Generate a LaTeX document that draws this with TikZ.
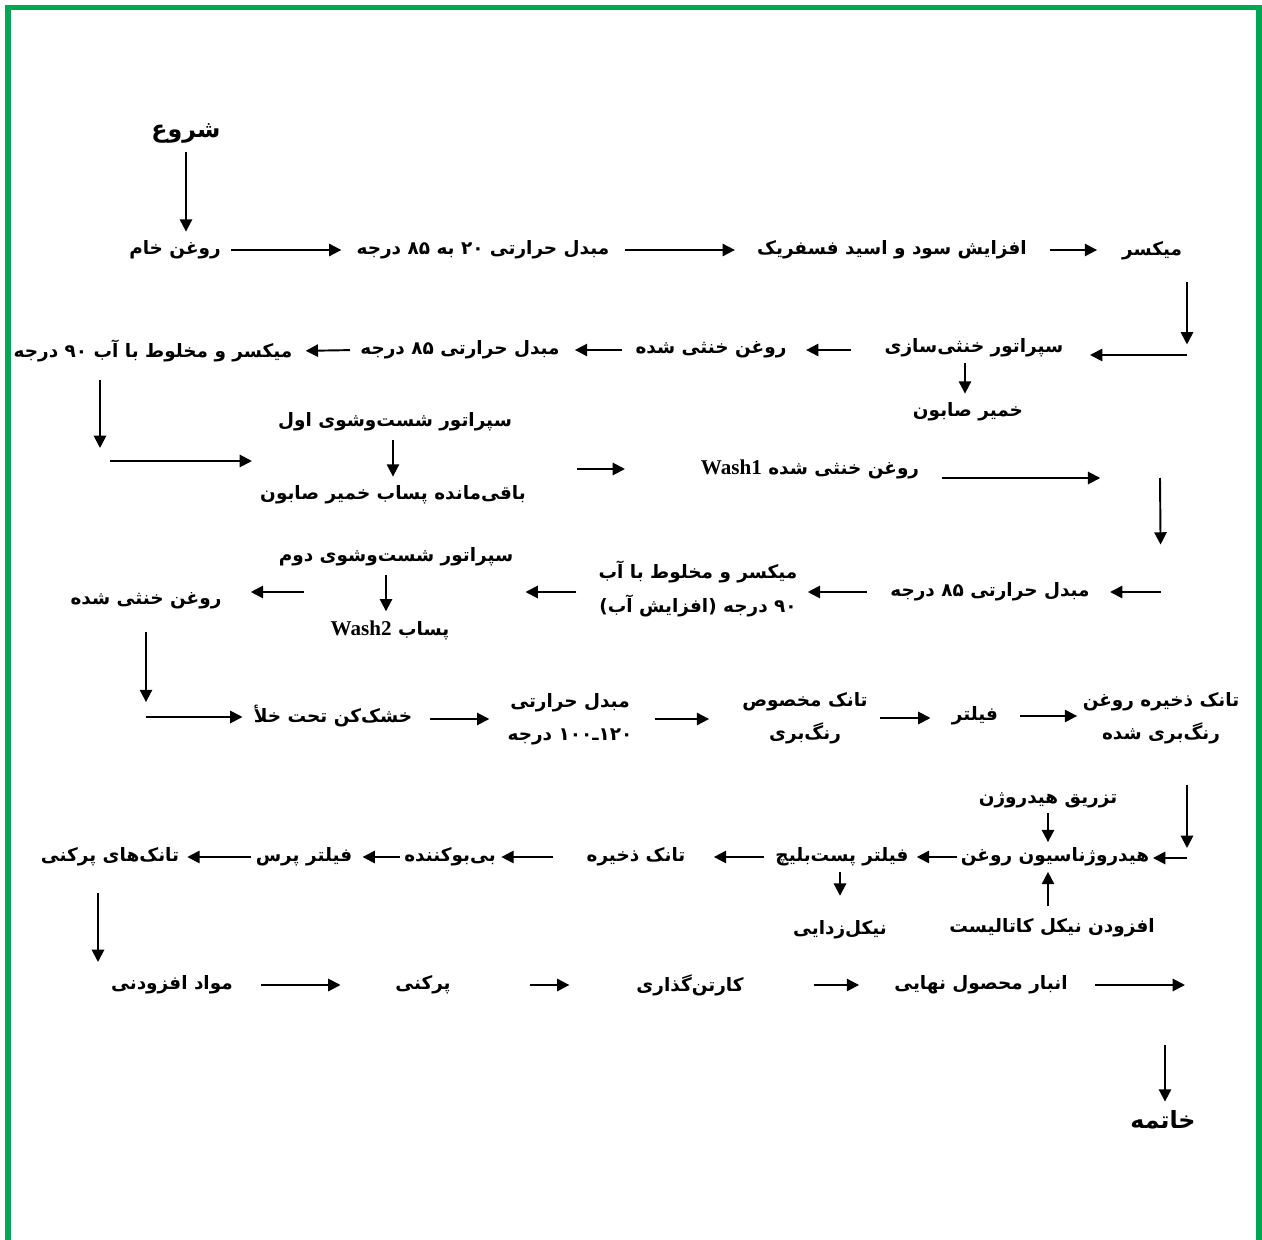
\documentclass[tikz,border=0pt]{standalone}
\usepackage{fontspec}
\newfontfamily\pfont[Script=Arabic]{DejaVu Sans}
\newfontfamily\lfont{Liberation Serif}
\TeXXeTstate=1
\newcommand{\rl}[1]{\beginR #1\endR}
\newcommand{\zw}{^^^^200c}
\usetikzlibrary{arrows.meta,positioning,calc}
\definecolor{framegreen}{RGB}{0,166,81}

\begin{document}
\begin{tikzpicture}[
    x=0.02cm, y=-0.02cm,
    proc/.style={font=\pfont\bfseries\fontsize{10.5}{19}\selectfont, inner sep=2pt, align=center},
    term/.style={proc, font=\pfont\bfseries\fontsize{13.5}{16}\selectfont},
    flow/.style={line width=1.1pt, -{Triangle[length=7pt,width=7pt]}, shorten <=3pt, shorten >=3pt}
  ]
  \useasboundingbox (0,0) rectangle (1262,1240);
  \draw[framegreen, line width=3.4pt] (8,1240) -- (8,7.5) -- (1259,7.5) -- (1259,1240);

  % row 1
  \node[term] (start) at (186,133) {\rl{شروع}};
  \node[proc] (crude) at (175,250) {\rl{روغن خام}};
  \node[proc] (heat20) at (483,250) {\rl{مبدل حرارتی ۲۰ به ۸۵ درجه}};
  \node[proc] (soda) at (892,250) {\rl{افزایش سود و اسید فسفریک}};
  \node[proc] (mixer) at (1152,251) {\rl{میکسر}};

  % row 2
  \node[proc] (neut) at (974,348) {\rl{سپراتور خنثی\zw سازی}};
  \node[proc] (soap) at (968,412) {\rl{خمیر صابون}};
  \node[proc] (neutoil) at (711,350) {\rl{روغن خنثی شده}};
  \node[proc] (heat85a) at (460,350) {\rl{مبدل حرارتی ۸۵ درجه}};
  \node[proc] (mix90) at (153,351) {\rl{میکسر و مخلوط با آب ۹۰ درجه}};

  % row 3
  \node[proc] (sepA) at (395,422) {\rl{سپراتور شست\zw وشوی اول}};
  \node[proc] (resA) at (393,495) {\rl{باقی\zw مانده پساب خمیر صابون}};
  \node[proc] (washA) at (810,469) {\rl{روغن خنثی شده \beginL{\lfont\bfseries\fontsize{12}{14}\selectfont Wash1}\endL}};

  % row 4
  \node[proc] (heat85b) at (990,592) {\rl{مبدل حرارتی ۸۵ درجه}};
  \node[proc] (mixB) at (698,589) {\rl{میکسر و مخلوط با آب}\\\rl{۹۰ درجه (افزایش آب)}};
  \node[proc] (sepB) at (396,557) {\rl{سپراتور شست\zw وشوی دوم}};
  \node[proc] (resB) at (390,630) {\rl{پساب \beginL{\lfont\bfseries\fontsize{12}{14}\selectfont Wash2}\endL}};
  \node[proc] (oilB) at (146,601) {\rl{روغن خنثی شده}};

  % row 5
  \node[proc] (dryer) at (333,716) {\rl{خشک\zw کن تحت خلأ}};
  \node[proc] (heat120) at (570,719) {\rl{مبدل حرارتی}\\\rl{۱۲۰ـ۱۰۰ درجه}};
  \node[proc] (bleach) at (805,718) {\rl{تانک مخصوص}\\\rl{رنگ\zw بری}};
  \node[proc] (filter) at (975,716) {\rl{فیلتر}};
  \node[proc] (bltank) at (1161,718) {\rl{تانک ذخیره روغن}\\\rl{رنگ\zw بری شده}};

  % row 6
  \node[proc] (hinj) at (1048,800) {\rl{تزریق هیدروژن}};
  \node[proc] (hydro) at (1055,857) {\rl{هیدروژناسیون روغن}};
  \node[proc] (nicat) at (1052,928) {\rl{افزودن نیکل کاتالیست}};
  \node[proc] (postf) at (842,857) {\rl{فیلتر پست\zw بلیچ}};
  \node[proc] (denick) at (840,930) {\rl{نیکل\zw زدایی}};
  \node[proc] (stank) at (636,857) {\rl{تانک ذخیره}};
  \node[proc] (deodor) at (450,857) {\rl{بی\zw بوکننده}};
  \node[proc] (fpress) at (304,857) {\rl{فیلتر پرس}};
  \node[proc] (filltk) at (110,857) {\rl{تانک\zw های پرکنی}};

  % row 7
  \node[proc] (addit) at (172,985) {\rl{مواد افزودنی}};
  \node[proc] (filling) at (423,985) {\rl{پرکنی}};
  \node[proc] (carton) at (690,985) {\rl{کارتن\zw گذاری}};
  \node[proc] (store) at (981,985) {\rl{انبار محصول نهایی}};
  \node[term] (finish) at (1163,1120) {\rl{خاتمه}};

  % turning points
  \coordinate (k1) at (1187,355);
  \coordinate (k2) at (100,461);
  \coordinate (k3) at (1160,478);
  \coordinate (k4) at (1161,592);
  \coordinate (k5) at (146,717);
  \coordinate (k6) at (1187,858);
  \coordinate (k7) at (98,962);
  \coordinate (k8) at (1185,985);
  \coordinate (k9) at (1165,1045);

  % row 1 arrows
  \draw[flow] (start.south -| 186,0) -- (186,0 |- crude.north);
  \draw[flow, shorten <=3.7pt, shorten >=6.5pt] (crude.east) -- (heat20.west);
  \draw[flow, shorten <=6.5pt, shorten >=10.5pt] (heat20.east) -- (soda.west);
  \draw[flow, shorten <=11pt, shorten >=12pt] (soda.east) -- (soda.east -| mixer.west);
  \draw[flow, shorten <=10pt, shorten >=6pt] (k1 |- mixer.south) -- (k1);
  \draw[flow, shorten <=0pt, shorten >=13pt] (k1) -- (k1 -| neut.east);

  % row 2 arrows
  \draw[flow, shorten <=1pt] (neut.south -| 965,0) -- (965,0 |- soap.north);
  \draw[flow, shorten <=17pt, shorten >=9pt] (neut.west |- neutoil) -- (neutoil.east);
  \draw[flow, shorten <=5.4pt, shorten >=6.5pt] (neutoil.west) -- (heat85a.east);
  \draw[flow, shorten <=3.7pt, shorten >=5.4pt] (heat85a.west) -- (mix90.east);
  \draw[flow, shorten <=8pt, shorten >=7.4pt] (k2 |- mix90.south) -- (k2);
  \draw[flow, shorten <=5.7pt, shorten >=2.5pt] (k2) -- (k2 -| resA.west);

  % row 3 arrows
  \draw[flow] (sepA.south -| 393,0) -- (393,0 |- resA.north);
  \draw[flow, shorten <=27pt, shorten >=41pt] (resA.east |- washA) -- (washA.west);
  \draw[flow, shorten <=11pt, shorten >=34pt] (washA.east |- k3) -- (k3);
  \draw[flow, shorten <=0pt, shorten >=27pt] (k3) -- (k4);
  \draw[flow, shorten <=0pt, shorten >=9.4pt] (k4) -- (heat85b.east);

  % row 4 arrows
  \draw[flow, shorten <=11pt, shorten >=3.7pt] (heat85b.west) -- (heat85b.west -| mixB.east);
  \draw[flow, shorten <=10.5pt, shorten >=4.8pt] (mixB.west |- heat85b) -- (sepB.east |- heat85b);
  \draw[flow] (sepB.south -| 386,0) -- (386,0 |- resB.north);
  \draw[flow, shorten <=13.3pt, shorten >=14.5pt] (resB.west |- heat85b) -- (oilB.east |- heat85b);
  \draw[flow, shorten <=11pt, shorten >=8.5pt] (k5 |- oilB.south) -- (k5);
  \draw[flow, shorten <=0pt, shorten >=4.3pt] (k5) -- (k5 -| dryer.west);

  % row 5 arrows
  \draw[flow, shorten <=8.2pt, shorten >=8.2pt] (dryer.east |- heat120) -- (heat120.west);
  \draw[flow, shorten <=10.5pt, shorten >=16.7pt] (heat120.east) -- (bleach.west |- heat120);
  \draw[flow, shorten <=4.8pt, shorten >=10pt] (bleach.east) -- (bleach.east -| filter.west);
  \draw[flow, shorten <=10pt, shorten >=1pt] (filter.east) -- (filter.east -| bltank.west);
  \draw[flow, shorten <=21pt, shorten >=5.7pt] (k6 |- bltank.south) -- (k6);
  \draw[flow, shorten <=0pt, shorten >=0pt] (k6) -- (k6 -| hydro.east);

  % row 6 arrows
  \draw[flow, shorten <=1pt, shorten >=1pt] (hinj.south -| 1048,0) -- (1048,0 |- hydro.north);
  \draw[flow, shorten <=5pt, shorten >=1pt] (1048,0 |- nicat.north) -- (1048,0 |- hydro.south);
  \draw[flow, shorten <=0pt, shorten >=2.5pt] (hydro.west) -- (postf.east);
  \draw[flow, shorten <=1pt, shorten >=12pt] (denick |- postf.south) -- (denick.north);
  \draw[flow, shorten <=4.3pt, shorten >=14pt] (postf.west) -- (stank.east);
  \draw[flow, shorten <=16.7pt, shorten >=1pt] (stank.west) -- (deodor.east);
  \draw[flow, shorten <=0pt, shorten >=3.7pt] (deodor.west) -- (fpress.east);
  \draw[flow, shorten <=0.3pt, shorten >=2.5pt] (fpress.west) -- (filltk.east);
  \draw[flow, shorten <=13pt, shorten >=0pt] (k7 |- filltk.south) -- (k7);

  % row 7 arrows
  \draw[flow, shorten <=14pt, shorten >=29pt] (addit.east) -- (filling.west);
  \draw[flow, shorten <=43pt, shorten >=36pt] (filling.east) -- (carton.west);
  \draw[flow, shorten <=37.7pt, shorten >=17.9pt] (carton.east) -- (store.west);
  \draw[flow, shorten <=13.3pt, shorten >=0pt] (store.east) -- (k8);
  \draw[flow, shorten <=0pt, shorten >=3pt] (k9) -- (k9 |- finish.north);
\end{tikzpicture}
\end{document}
